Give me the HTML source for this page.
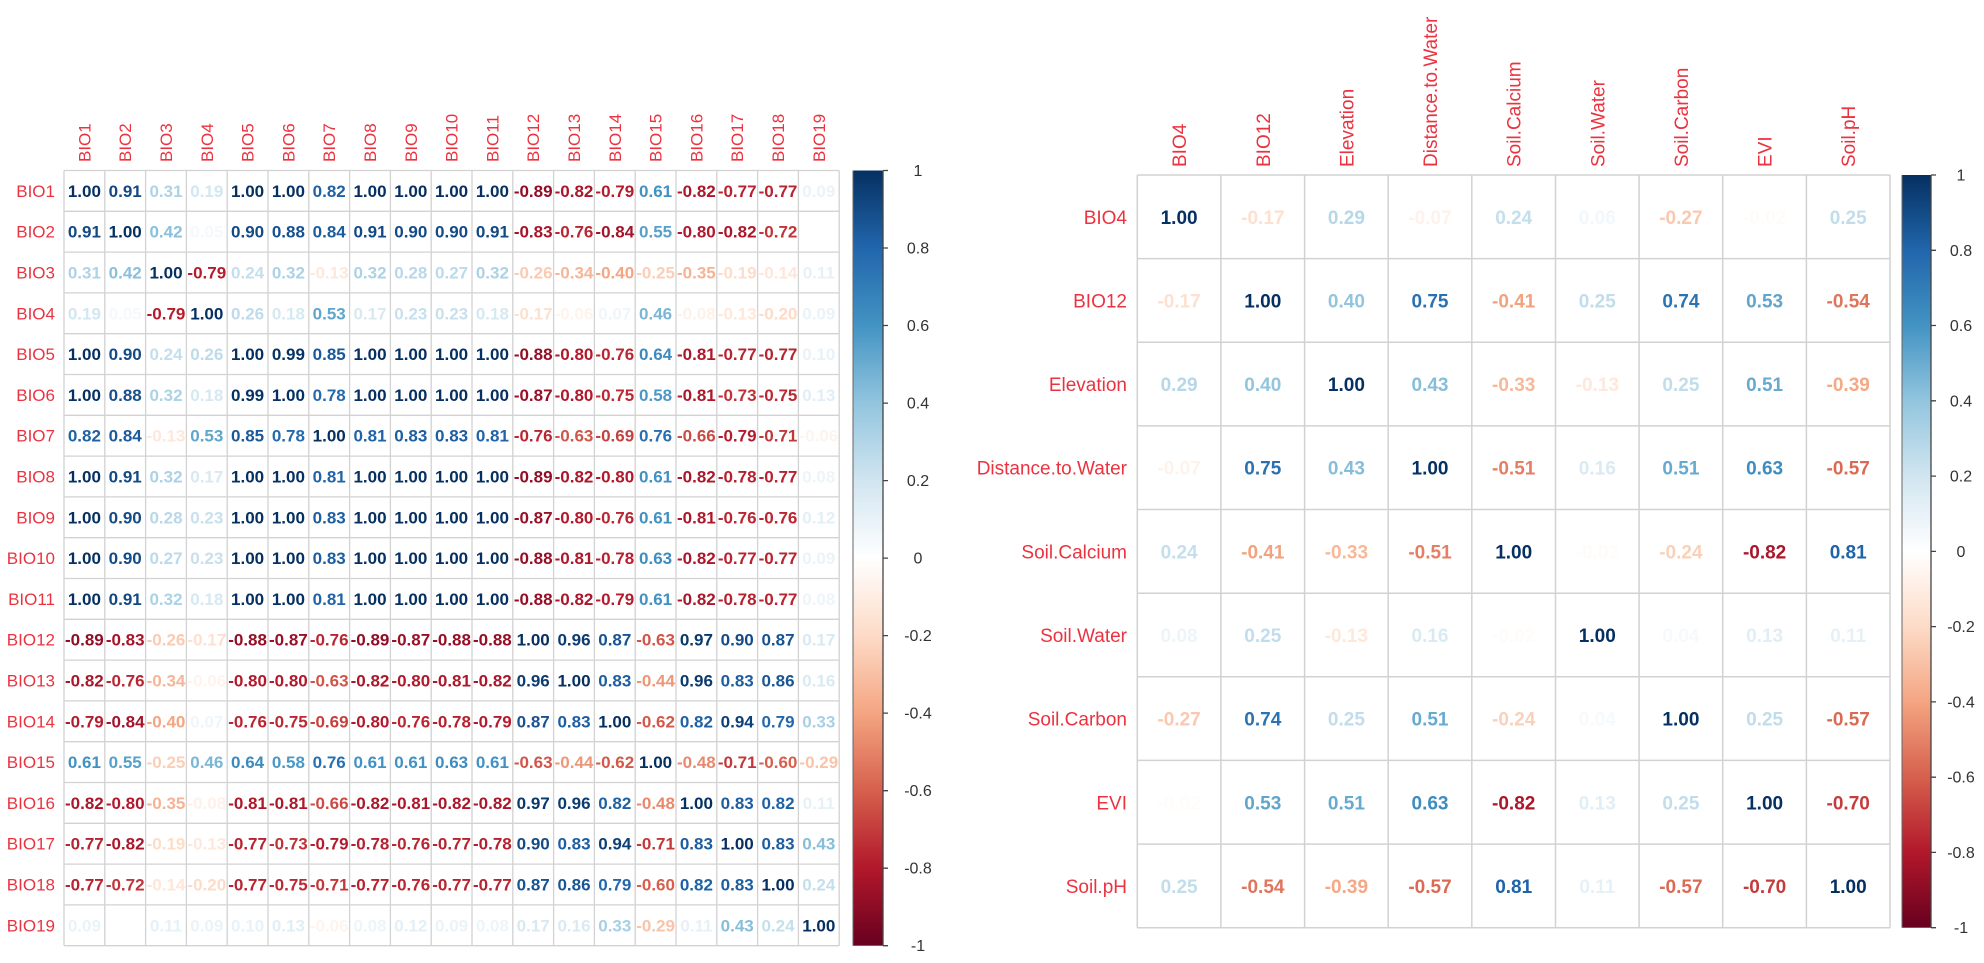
<!DOCTYPE html>
<html><head><meta charset="utf-8"><style>
html,body{margin:0;padding:0;background:#fff;}
svg{display:block;font-family:"Liberation Sans",Arial,sans-serif;}
.lab{fill:#EB3340;}
.nl{font-size:17px;font-weight:bold;text-anchor:middle;}
.nr{font-size:19px;font-weight:bold;text-anchor:middle;}
.tk{font-size:16px;fill:#333;text-anchor:middle;}
</style></head><body>
<svg width="1984" height="963" viewBox="0 0 1984 963" xmlns="http://www.w3.org/2000/svg">
<defs>
<linearGradient id="g" x1="0" y1="0" x2="0" y2="1">
<stop offset="0" stop-color="#053061"/><stop offset="0.1" stop-color="#2166AC"/><stop offset="0.2" stop-color="#4393C3"/><stop offset="0.3" stop-color="#92C5DE"/><stop offset="0.4" stop-color="#D1E5F0"/><stop offset="0.5" stop-color="#FFFFFF"/><stop offset="0.6" stop-color="#FDDBC7"/><stop offset="0.7" stop-color="#F4A582"/><stop offset="0.8" stop-color="#D6604D"/><stop offset="0.9" stop-color="#B2182B"/><stop offset="1" stop-color="#67001F"/>
</linearGradient>
</defs>
<rect width="1984" height="963" fill="#fff"/>

<!-- LEFT GRID -->
<path fill="none" stroke="#d2d2d2" stroke-width="1.3" d="M64 170.5V945.7M104.8 170.5V945.7M145.6 170.5V945.7M186.4 170.5V945.7M227.2 170.5V945.7M268 170.5V945.7M308.8 170.5V945.7M349.6 170.5V945.7M390.4 170.5V945.7M431.2 170.5V945.7M472 170.5V945.7M512.8 170.5V945.7M553.6 170.5V945.7M594.4 170.5V945.7M635.2 170.5V945.7M676 170.5V945.7M716.8 170.5V945.7M757.6 170.5V945.7M798.4 170.5V945.7M839.2 170.5V945.7M64 170.5H839.2M64 211.3H839.2M64 252.1H839.2M64 292.9H839.2M64 333.7H839.2M64 374.5H839.2M64 415.3H839.2M64 456.1H839.2M64 496.9H839.2M64 537.7H839.2M64 578.5H839.2M64 619.3H839.2M64 660.1H839.2M64 700.9H839.2M64 741.7H839.2M64 782.5H839.2M64 823.3H839.2M64 864.1H839.2M64 904.9H839.2M64 945.7H839.2"/>

<!-- LEFT column labels -->
<g class="lab" font-size="17">
<text transform="translate(90.4,162) rotate(-90)">BIO1</text>
<text transform="translate(131.2,162) rotate(-90)">BIO2</text>
<text transform="translate(172,162) rotate(-90)">BIO3</text>
<text transform="translate(212.8,162) rotate(-90)">BIO4</text>
<text transform="translate(253.6,162) rotate(-90)">BIO5</text>
<text transform="translate(294.4,162) rotate(-90)">BIO6</text>
<text transform="translate(335.2,162) rotate(-90)">BIO7</text>
<text transform="translate(376,162) rotate(-90)">BIO8</text>
<text transform="translate(416.8,162) rotate(-90)">BIO9</text>
<text transform="translate(457.6,162) rotate(-90)">BIO10</text>
<text transform="translate(498.4,162) rotate(-90)">BIO11</text>
<text transform="translate(539.2,162) rotate(-90)">BIO12</text>
<text transform="translate(580,162) rotate(-90)">BIO13</text>
<text transform="translate(620.8,162) rotate(-90)">BIO14</text>
<text transform="translate(661.6,162) rotate(-90)">BIO15</text>
<text transform="translate(702.4,162) rotate(-90)">BIO16</text>
<text transform="translate(743.2,162) rotate(-90)">BIO17</text>
<text transform="translate(784,162) rotate(-90)">BIO18</text>
<text transform="translate(824.8,162) rotate(-90)">BIO19</text>
</g>
<!-- LEFT row labels -->
<g class="lab" font-size="17" text-anchor="end">
<text x="55" y="196.9">BIO1</text>
<text x="55" y="237.7">BIO2</text>
<text x="55" y="278.5">BIO3</text>
<text x="55" y="319.3">BIO4</text>
<text x="55" y="360.1">BIO5</text>
<text x="55" y="400.9">BIO6</text>
<text x="55" y="441.7">BIO7</text>
<text x="55" y="482.5">BIO8</text>
<text x="55" y="523.3">BIO9</text>
<text x="55" y="564.1">BIO10</text>
<text x="55" y="604.9">BIO11</text>
<text x="55" y="645.7">BIO12</text>
<text x="55" y="686.5">BIO13</text>
<text x="55" y="727.3">BIO14</text>
<text x="55" y="768.1">BIO15</text>
<text x="55" y="808.9">BIO16</text>
<text x="55" y="849.7">BIO17</text>
<text x="55" y="890.5">BIO18</text>
<text x="55" y="931.3">BIO19</text>
</g>

<!-- LEFT numbers -->
<g class="nl">
<text y="196.9"><tspan x="84.4" fill="#053061">1.00</tspan><tspan x="125.2" fill="#124883">0.91</tspan><tspan x="166" fill="#AED3E6">0.31</tspan><tspan x="206.8" fill="#D3E6F1">0.19</tspan><tspan x="247.6" fill="#053061">1.00</tspan><tspan x="288.4" fill="#053061">1.00</tspan><tspan x="329.2" fill="#1E61A5">0.82</tspan><tspan x="370" fill="#053061">1.00</tspan><tspan x="410.8" fill="#053061">1.00</tspan><tspan x="451.6" fill="#053061">1.00</tspan><tspan x="492.4" fill="#053061">1.00</tspan><tspan x="533.2" fill="#900D26">-0.89</tspan><tspan x="574" fill="#AB162A">-0.82</tspan><tspan x="614.8" fill="#B41C2D">-0.79</tspan><tspan x="655.6" fill="#4191C2">0.61</tspan><tspan x="696.4" fill="#AB162A">-0.82</tspan><tspan x="737.2" fill="#B72330">-0.77</tspan><tspan x="778" fill="#B72330">-0.77</tspan><tspan x="818.8" fill="#EAF3F8">0.09</tspan></text>

<text y="237.7"><tspan x="84.4" fill="#124883">0.91</tspan><tspan x="125.2" fill="#053061">1.00</tspan><tspan x="166" fill="#8AC0DB">0.42</tspan><tspan x="206.8" fill="#F4F9FB">0.05</tspan><tspan x="247.6" fill="#134B87">0.90</tspan><tspan x="288.4" fill="#16508E">0.88</tspan><tspan x="329.2" fill="#1B5B9D">0.84</tspan><tspan x="370" fill="#124883">0.91</tspan><tspan x="410.8" fill="#134B87">0.90</tspan><tspan x="451.6" fill="#134B87">0.90</tspan><tspan x="492.4" fill="#124883">0.91</tspan><tspan x="533.2" fill="#A71429">-0.83</tspan><tspan x="574" fill="#B92632">-0.76</tspan><tspan x="614.8" fill="#A31329">-0.84</tspan><tspan x="655.6" fill="#57A0CA">0.55</tspan><tspan x="696.4" fill="#B2182B">-0.80</tspan><tspan x="737.2" fill="#AB162A">-0.82</tspan><tspan x="778" fill="#C03539">-0.72</tspan><tspan x="818.8" fill="#FFFFFF">0.00</tspan></text>

<text y="278.5"><tspan x="84.4" fill="#AED3E6">0.31</tspan><tspan x="125.2" fill="#8AC0DB">0.42</tspan><tspan x="166" fill="#053061">1.00</tspan><tspan x="206.8" fill="#B41C2D">-0.79</tspan><tspan x="247.6" fill="#C4DFEC">0.24</tspan><tspan x="288.4" fill="#ABD2E5">0.32</tspan><tspan x="329.2" fill="#FEE8DB">-0.13</tspan><tspan x="370" fill="#ABD2E5">0.32</tspan><tspan x="410.8" fill="#B8D8E9">0.28</tspan><tspan x="451.6" fill="#BBDAEA">0.27</tspan><tspan x="492.4" fill="#ABD2E5">0.32</tspan><tspan x="533.2" fill="#FACBB2">-0.26</tspan><tspan x="574" fill="#F7B597">-0.34</tspan><tspan x="614.8" fill="#F4A582">-0.40</tspan><tspan x="655.6" fill="#FBCEB6">-0.25</tspan><tspan x="696.4" fill="#F6B393">-0.35</tspan><tspan x="737.2" fill="#FDDDCA">-0.19</tspan><tspan x="778" fill="#FEE6D8">-0.14</tspan><tspan x="818.8" fill="#E6F1F7">0.11</tspan></text>

<text y="319.3"><tspan x="84.4" fill="#D3E6F1">0.19</tspan><tspan x="125.2" fill="#F4F9FB">0.05</tspan><tspan x="166" fill="#B41C2D">-0.79</tspan><tspan x="206.8" fill="#053061">1.00</tspan><tspan x="247.6" fill="#BEDBEB">0.26</tspan><tspan x="288.4" fill="#D6E8F2">0.18</tspan><tspan x="329.2" fill="#5FA5CC">0.53</tspan><tspan x="370" fill="#D8E9F2">0.17</tspan><tspan x="410.8" fill="#C8E0ED">0.23</tspan><tspan x="451.6" fill="#C8E0ED">0.23</tspan><tspan x="492.4" fill="#D6E8F2">0.18</tspan><tspan x="533.2" fill="#FDE0CF">-0.17</tspan><tspan x="574" fill="#FEF4EE">-0.06</tspan><tspan x="614.8" fill="#EFF6FA">0.07</tspan><tspan x="655.6" fill="#7AB6D6">0.46</tspan><tspan x="696.4" fill="#FEF1E9">-0.08</tspan><tspan x="737.2" fill="#FEE8DB">-0.13</tspan><tspan x="778" fill="#FDDBC7">-0.20</tspan><tspan x="818.8" fill="#EAF3F8">0.09</tspan></text>

<text y="360.1"><tspan x="84.4" fill="#053061">1.00</tspan><tspan x="125.2" fill="#134B87">0.90</tspan><tspan x="166" fill="#C4DFEC">0.24</tspan><tspan x="206.8" fill="#BEDBEB">0.26</tspan><tspan x="247.6" fill="#053061">1.00</tspan><tspan x="288.4" fill="#063365">0.99</tspan><tspan x="329.2" fill="#1A5999">0.85</tspan><tspan x="370" fill="#053061">1.00</tspan><tspan x="410.8" fill="#053061">1.00</tspan><tspan x="451.6" fill="#053061">1.00</tspan><tspan x="492.4" fill="#053061">1.00</tspan><tspan x="533.2" fill="#940E26">-0.88</tspan><tspan x="574" fill="#B2182B">-0.80</tspan><tspan x="614.8" fill="#B92632">-0.76</tspan><tspan x="655.6" fill="#3C8ABE">0.64</tspan><tspan x="696.4" fill="#AE172A">-0.81</tspan><tspan x="737.2" fill="#B72330">-0.77</tspan><tspan x="778" fill="#B72330">-0.77</tspan><tspan x="818.8" fill="#E8F2F8">0.10</tspan></text>

<text y="400.9"><tspan x="84.4" fill="#053061">1.00</tspan><tspan x="125.2" fill="#16508E">0.88</tspan><tspan x="166" fill="#ABD2E5">0.32</tspan><tspan x="206.8" fill="#D6E8F2">0.18</tspan><tspan x="247.6" fill="#063365">0.99</tspan><tspan x="288.4" fill="#053061">1.00</tspan><tspan x="329.2" fill="#246BAE">0.78</tspan><tspan x="370" fill="#053061">1.00</tspan><tspan x="410.8" fill="#053061">1.00</tspan><tspan x="451.6" fill="#053061">1.00</tspan><tspan x="492.4" fill="#053061">1.00</tspan><tspan x="533.2" fill="#981027">-0.87</tspan><tspan x="574" fill="#B2182B">-0.80</tspan><tspan x="614.8" fill="#BB2A34">-0.75</tspan><tspan x="655.6" fill="#4B98C6">0.58</tspan><tspan x="696.4" fill="#AE172A">-0.81</tspan><tspan x="737.2" fill="#BF3137">-0.73</tspan><tspan x="778" fill="#BB2A34">-0.75</tspan><tspan x="818.8" fill="#E1EEF5">0.13</tspan></text>

<text y="441.7"><tspan x="84.4" fill="#1E61A5">0.82</tspan><tspan x="125.2" fill="#1B5B9D">0.84</tspan><tspan x="166" fill="#FEE8DB">-0.13</tspan><tspan x="206.8" fill="#5FA5CC">0.53</tspan><tspan x="247.6" fill="#1A5999">0.85</tspan><tspan x="288.4" fill="#246BAE">0.78</tspan><tspan x="329.2" fill="#053061">1.00</tspan><tspan x="370" fill="#2063A8">0.81</tspan><tspan x="410.8" fill="#1D5EA1">0.83</tspan><tspan x="451.6" fill="#1D5EA1">0.83</tspan><tspan x="492.4" fill="#2063A8">0.81</tspan><tspan x="533.2" fill="#B92632">-0.76</tspan><tspan x="574" fill="#D15548">-0.63</tspan><tspan x="614.8" fill="#C6403E">-0.69</tspan><tspan x="655.6" fill="#286FB1">0.76</tspan><tspan x="696.4" fill="#CB4A43">-0.66</tspan><tspan x="737.2" fill="#B41C2D">-0.79</tspan><tspan x="778" fill="#C2383A">-0.71</tspan><tspan x="818.8" fill="#FEF4EE">-0.06</tspan></text>

<text y="482.5"><tspan x="84.4" fill="#053061">1.00</tspan><tspan x="125.2" fill="#124883">0.91</tspan><tspan x="166" fill="#ABD2E5">0.32</tspan><tspan x="206.8" fill="#D8E9F2">0.17</tspan><tspan x="247.6" fill="#053061">1.00</tspan><tspan x="288.4" fill="#053061">1.00</tspan><tspan x="329.2" fill="#2063A8">0.81</tspan><tspan x="370" fill="#053061">1.00</tspan><tspan x="410.8" fill="#053061">1.00</tspan><tspan x="451.6" fill="#053061">1.00</tspan><tspan x="492.4" fill="#053061">1.00</tspan><tspan x="533.2" fill="#900D26">-0.89</tspan><tspan x="574" fill="#AB162A">-0.82</tspan><tspan x="614.8" fill="#B2182B">-0.80</tspan><tspan x="655.6" fill="#4191C2">0.61</tspan><tspan x="696.4" fill="#AB162A">-0.82</tspan><tspan x="737.2" fill="#B61F2E">-0.78</tspan><tspan x="778" fill="#B72330">-0.77</tspan><tspan x="818.8" fill="#EDF5F9">0.08</tspan></text>

<text y="523.3"><tspan x="84.4" fill="#053061">1.00</tspan><tspan x="125.2" fill="#134B87">0.90</tspan><tspan x="166" fill="#B8D8E9">0.28</tspan><tspan x="206.8" fill="#C8E0ED">0.23</tspan><tspan x="247.6" fill="#053061">1.00</tspan><tspan x="288.4" fill="#053061">1.00</tspan><tspan x="329.2" fill="#1D5EA1">0.83</tspan><tspan x="370" fill="#053061">1.00</tspan><tspan x="410.8" fill="#053061">1.00</tspan><tspan x="451.6" fill="#053061">1.00</tspan><tspan x="492.4" fill="#053061">1.00</tspan><tspan x="533.2" fill="#981027">-0.87</tspan><tspan x="574" fill="#B2182B">-0.80</tspan><tspan x="614.8" fill="#B92632">-0.76</tspan><tspan x="655.6" fill="#4191C2">0.61</tspan><tspan x="696.4" fill="#AE172A">-0.81</tspan><tspan x="737.2" fill="#B92632">-0.76</tspan><tspan x="778" fill="#B92632">-0.76</tspan><tspan x="818.8" fill="#E3EFF6">0.12</tspan></text>

<text y="564.1"><tspan x="84.4" fill="#053061">1.00</tspan><tspan x="125.2" fill="#134B87">0.90</tspan><tspan x="166" fill="#BBDAEA">0.27</tspan><tspan x="206.8" fill="#C8E0ED">0.23</tspan><tspan x="247.6" fill="#053061">1.00</tspan><tspan x="288.4" fill="#053061">1.00</tspan><tspan x="329.2" fill="#1D5EA1">0.83</tspan><tspan x="370" fill="#053061">1.00</tspan><tspan x="410.8" fill="#053061">1.00</tspan><tspan x="451.6" fill="#053061">1.00</tspan><tspan x="492.4" fill="#053061">1.00</tspan><tspan x="533.2" fill="#940E26">-0.88</tspan><tspan x="574" fill="#AE172A">-0.81</tspan><tspan x="614.8" fill="#B61F2E">-0.78</tspan><tspan x="655.6" fill="#3E8CC0">0.63</tspan><tspan x="696.4" fill="#AB162A">-0.82</tspan><tspan x="737.2" fill="#B72330">-0.77</tspan><tspan x="778" fill="#B72330">-0.77</tspan><tspan x="818.8" fill="#EAF3F8">0.09</tspan></text>

<text y="604.9"><tspan x="84.4" fill="#053061">1.00</tspan><tspan x="125.2" fill="#124883">0.91</tspan><tspan x="166" fill="#ABD2E5">0.32</tspan><tspan x="206.8" fill="#D6E8F2">0.18</tspan><tspan x="247.6" fill="#053061">1.00</tspan><tspan x="288.4" fill="#053061">1.00</tspan><tspan x="329.2" fill="#2063A8">0.81</tspan><tspan x="370" fill="#053061">1.00</tspan><tspan x="410.8" fill="#053061">1.00</tspan><tspan x="451.6" fill="#053061">1.00</tspan><tspan x="492.4" fill="#053061">1.00</tspan><tspan x="533.2" fill="#940E26">-0.88</tspan><tspan x="574" fill="#AB162A">-0.82</tspan><tspan x="614.8" fill="#B41C2D">-0.79</tspan><tspan x="655.6" fill="#4191C2">0.61</tspan><tspan x="696.4" fill="#AB162A">-0.82</tspan><tspan x="737.2" fill="#B61F2E">-0.78</tspan><tspan x="778" fill="#B72330">-0.77</tspan><tspan x="818.8" fill="#EDF5F9">0.08</tspan></text>

<text y="645.7"><tspan x="84.4" fill="#900D26">-0.89</tspan><tspan x="125.2" fill="#A71429">-0.83</tspan><tspan x="166" fill="#FACBB2">-0.26</tspan><tspan x="206.8" fill="#FDE0CF">-0.17</tspan><tspan x="247.6" fill="#940E26">-0.88</tspan><tspan x="288.4" fill="#981027">-0.87</tspan><tspan x="329.2" fill="#B92632">-0.76</tspan><tspan x="370" fill="#900D26">-0.89</tspan><tspan x="410.8" fill="#981027">-0.87</tspan><tspan x="451.6" fill="#940E26">-0.88</tspan><tspan x="492.4" fill="#940E26">-0.88</tspan><tspan x="533.2" fill="#053061">1.00</tspan><tspan x="574" fill="#0B3B70">0.96</tspan><tspan x="614.8" fill="#175392">0.87</tspan><tspan x="655.6" fill="#D15548">-0.63</tspan><tspan x="696.4" fill="#09386C">0.97</tspan><tspan x="737.2" fill="#134B87">0.90</tspan><tspan x="778" fill="#175392">0.87</tspan><tspan x="818.8" fill="#D8E9F2">0.17</tspan></text>

<text y="686.5"><tspan x="84.4" fill="#AB162A">-0.82</tspan><tspan x="125.2" fill="#B92632">-0.76</tspan><tspan x="166" fill="#F7B597">-0.34</tspan><tspan x="206.8" fill="#FEF4EE">-0.06</tspan><tspan x="247.6" fill="#B2182B">-0.80</tspan><tspan x="288.4" fill="#B2182B">-0.80</tspan><tspan x="329.2" fill="#D15548">-0.63</tspan><tspan x="370" fill="#AB162A">-0.82</tspan><tspan x="410.8" fill="#B2182B">-0.80</tspan><tspan x="451.6" fill="#AE172A">-0.81</tspan><tspan x="492.4" fill="#AB162A">-0.82</tspan><tspan x="533.2" fill="#0B3B70">0.96</tspan><tspan x="574" fill="#053061">1.00</tspan><tspan x="614.8" fill="#1D5EA1">0.83</tspan><tspan x="655.6" fill="#EE9777">-0.44</tspan><tspan x="696.4" fill="#0B3B70">0.96</tspan><tspan x="737.2" fill="#1D5EA1">0.83</tspan><tspan x="778" fill="#195696">0.86</tspan><tspan x="818.8" fill="#DAEAF3">0.16</tspan></text>

<text y="727.3"><tspan x="84.4" fill="#B41C2D">-0.79</tspan><tspan x="125.2" fill="#A31329">-0.84</tspan><tspan x="166" fill="#F4A582">-0.40</tspan><tspan x="206.8" fill="#EFF6FA">0.07</tspan><tspan x="247.6" fill="#B92632">-0.76</tspan><tspan x="288.4" fill="#BB2A34">-0.75</tspan><tspan x="329.2" fill="#C6403E">-0.69</tspan><tspan x="370" fill="#B2182B">-0.80</tspan><tspan x="410.8" fill="#B92632">-0.76</tspan><tspan x="451.6" fill="#B61F2E">-0.78</tspan><tspan x="492.4" fill="#B41C2D">-0.79</tspan><tspan x="533.2" fill="#175392">0.87</tspan><tspan x="574" fill="#1D5EA1">0.83</tspan><tspan x="614.8" fill="#053061">1.00</tspan><tspan x="655.6" fill="#D2594A">-0.62</tspan><tspan x="696.4" fill="#1E61A5">0.82</tspan><tspan x="737.2" fill="#0D4078">0.94</tspan><tspan x="778" fill="#2368AD">0.79</tspan><tspan x="818.8" fill="#A8D0E4">0.33</tspan></text>

<text y="768.1"><tspan x="84.4" fill="#4191C2">0.61</tspan><tspan x="125.2" fill="#57A0CA">0.55</tspan><tspan x="166" fill="#FBCEB6">-0.25</tspan><tspan x="206.8" fill="#7AB6D6">0.46</tspan><tspan x="247.6" fill="#3C8ABE">0.64</tspan><tspan x="288.4" fill="#4B98C6">0.58</tspan><tspan x="329.2" fill="#286FB1">0.76</tspan><tspan x="370" fill="#4191C2">0.61</tspan><tspan x="410.8" fill="#4191C2">0.61</tspan><tspan x="451.6" fill="#3E8CC0">0.63</tspan><tspan x="492.4" fill="#4191C2">0.61</tspan><tspan x="533.2" fill="#D15548">-0.63</tspan><tspan x="574" fill="#EE9777">-0.44</tspan><tspan x="614.8" fill="#D2594A">-0.62</tspan><tspan x="655.6" fill="#053061">1.00</tspan><tspan x="696.4" fill="#E8896D">-0.48</tspan><tspan x="737.2" fill="#C2383A">-0.71</tspan><tspan x="778" fill="#D6604D">-0.60</tspan><tspan x="818.8" fill="#F9C3A8">-0.29</tspan></text>

<text y="808.9"><tspan x="84.4" fill="#AB162A">-0.82</tspan><tspan x="125.2" fill="#B2182B">-0.80</tspan><tspan x="166" fill="#F6B393">-0.35</tspan><tspan x="206.8" fill="#FEF1E9">-0.08</tspan><tspan x="247.6" fill="#AE172A">-0.81</tspan><tspan x="288.4" fill="#AE172A">-0.81</tspan><tspan x="329.2" fill="#CB4A43">-0.66</tspan><tspan x="370" fill="#AB162A">-0.82</tspan><tspan x="410.8" fill="#AE172A">-0.81</tspan><tspan x="451.6" fill="#AB162A">-0.82</tspan><tspan x="492.4" fill="#AB162A">-0.82</tspan><tspan x="533.2" fill="#09386C">0.97</tspan><tspan x="574" fill="#0B3B70">0.96</tspan><tspan x="614.8" fill="#1E61A5">0.82</tspan><tspan x="655.6" fill="#E8896D">-0.48</tspan><tspan x="696.4" fill="#053061">1.00</tspan><tspan x="737.2" fill="#1D5EA1">0.83</tspan><tspan x="778" fill="#1E61A5">0.82</tspan><tspan x="818.8" fill="#E6F1F7">0.11</tspan></text>

<text y="849.7"><tspan x="84.4" fill="#B72330">-0.77</tspan><tspan x="125.2" fill="#AB162A">-0.82</tspan><tspan x="166" fill="#FDDDCA">-0.19</tspan><tspan x="206.8" fill="#FEE8DB">-0.13</tspan><tspan x="247.6" fill="#B72330">-0.77</tspan><tspan x="288.4" fill="#BF3137">-0.73</tspan><tspan x="329.2" fill="#B41C2D">-0.79</tspan><tspan x="370" fill="#B61F2E">-0.78</tspan><tspan x="410.8" fill="#B92632">-0.76</tspan><tspan x="451.6" fill="#B72330">-0.77</tspan><tspan x="492.4" fill="#B61F2E">-0.78</tspan><tspan x="533.2" fill="#134B87">0.90</tspan><tspan x="574" fill="#1D5EA1">0.83</tspan><tspan x="614.8" fill="#0D4078">0.94</tspan><tspan x="655.6" fill="#C2383A">-0.71</tspan><tspan x="696.4" fill="#1D5EA1">0.83</tspan><tspan x="737.2" fill="#053061">1.00</tspan><tspan x="778" fill="#1D5EA1">0.83</tspan><tspan x="818.8" fill="#86BEDA">0.43</tspan></text>

<text y="890.5"><tspan x="84.4" fill="#B72330">-0.77</tspan><tspan x="125.2" fill="#C03539">-0.72</tspan><tspan x="166" fill="#FEE6D8">-0.14</tspan><tspan x="206.8" fill="#FDDBC7">-0.20</tspan><tspan x="247.6" fill="#B72330">-0.77</tspan><tspan x="288.4" fill="#BB2A34">-0.75</tspan><tspan x="329.2" fill="#C2383A">-0.71</tspan><tspan x="370" fill="#B72330">-0.77</tspan><tspan x="410.8" fill="#B92632">-0.76</tspan><tspan x="451.6" fill="#B72330">-0.77</tspan><tspan x="492.4" fill="#B72330">-0.77</tspan><tspan x="533.2" fill="#175392">0.87</tspan><tspan x="574" fill="#195696">0.86</tspan><tspan x="614.8" fill="#2368AD">0.79</tspan><tspan x="655.6" fill="#D6604D">-0.60</tspan><tspan x="696.4" fill="#1E61A5">0.82</tspan><tspan x="737.2" fill="#1D5EA1">0.83</tspan><tspan x="778" fill="#053061">1.00</tspan><tspan x="818.8" fill="#C4DFEC">0.24</tspan></text>

<text y="931.3"><tspan x="84.4" fill="#EAF3F8">0.09</tspan><tspan x="125.2" fill="#FFFFFF">0.00</tspan><tspan x="166" fill="#E6F1F7">0.11</tspan><tspan x="206.8" fill="#EAF3F8">0.09</tspan><tspan x="247.6" fill="#E8F2F8">0.10</tspan><tspan x="288.4" fill="#E1EEF5">0.13</tspan><tspan x="329.2" fill="#FEF4EE">-0.06</tspan><tspan x="370" fill="#EDF5F9">0.08</tspan><tspan x="410.8" fill="#E3EFF6">0.12</tspan><tspan x="451.6" fill="#EAF3F8">0.09</tspan><tspan x="492.4" fill="#EDF5F9">0.08</tspan><tspan x="533.2" fill="#D8E9F2">0.17</tspan><tspan x="574" fill="#DAEAF3">0.16</tspan><tspan x="614.8" fill="#A8D0E4">0.33</tspan><tspan x="655.6" fill="#F9C3A8">-0.29</tspan><tspan x="696.4" fill="#E6F1F7">0.11</tspan><tspan x="737.2" fill="#86BEDA">0.43</tspan><tspan x="778" fill="#C4DFEC">0.24</tspan><tspan x="818.8" fill="#053061">1.00</tspan></text>
</g>

<!-- LEFT colorbar -->
<rect x="853" y="170.5" width="30" height="775.2" fill="url(#g)"/>
<line x1="853" y1="170.5" x2="853" y2="945.7" stroke="#666" stroke-width="1"/>
<path stroke="#444" stroke-width="1.3" fill="none" d="M883 170.5V945.7M883 170.5h5M883 248h5M883 325.5h5M883 403.1h5M883 480.6h5M883 558.1h5M883 635.6h5M883 713.1h5M883 790.7h5M883 868.2h5M883 945.7h5"/>
<g class="tk">
<text x="918" y="176">1</text>
<text x="918" y="253.5">0.8</text>
<text x="918" y="331">0.6</text>
<text x="918" y="408.6">0.4</text>
<text x="918" y="486.1">0.2</text>
<text x="918" y="563.6">0</text>
<text x="918" y="641.1">-0.2</text>
<text x="918" y="718.6">-0.4</text>
<text x="918" y="796.2">-0.6</text>
<text x="918" y="873.7">-0.8</text>
<text x="918" y="951.2">-1</text>
</g>

<!-- RIGHT GRID -->
<path fill="none" stroke="#d2d2d2" stroke-width="1.5" d="M1137.3 175V927.7M1220.9 175V927.7M1304.6 175V927.7M1388.2 175V927.7M1471.8 175V927.7M1555.5 175V927.7M1639.1 175V927.7M1722.7 175V927.7M1806.4 175V927.7M1890 175V927.7M1137.3 175H1890M1137.3 258.6H1890M1137.3 342.3H1890M1137.3 425.9H1890M1137.3 509.5H1890M1137.3 593.2H1890M1137.3 676.8H1890M1137.3 760.4H1890M1137.3 844.1H1890M1137.3 927.7H1890"/>

<!-- RIGHT column labels -->
<g class="lab" font-size="19">
<text transform="translate(1186.1,167) rotate(-90)">BIO4</text>
<text transform="translate(1269.8,167) rotate(-90)">BIO12</text>
<text transform="translate(1353.4,167) rotate(-90)">Elevation</text>
<text transform="translate(1437,167) rotate(-90)">Distance.to.Water</text>
<text transform="translate(1520.7,167) rotate(-90)">Soil.Calcium</text>
<text transform="translate(1604.3,167) rotate(-90)">Soil.Water</text>
<text transform="translate(1687.9,167) rotate(-90)">Soil.Carbon</text>
<text transform="translate(1771.6,167) rotate(-90)">EVI</text>
<text transform="translate(1855.2,167) rotate(-90)">Soil.pH</text>
</g>
<!-- RIGHT row labels -->
<g class="lab" font-size="19" text-anchor="end">
<text x="1127" y="223.8">BIO4</text>
<text x="1127" y="307.5">BIO12</text>
<text x="1127" y="391.1">Elevation</text>
<text x="1127" y="474.7">Distance.to.Water</text>
<text x="1127" y="558.4">Soil.Calcium</text>
<text x="1127" y="642">Soil.Water</text>
<text x="1127" y="725.6">Soil.Carbon</text>
<text x="1127" y="809.3">EVI</text>
<text x="1127" y="892.9">Soil.pH</text>
</g>

<!-- RIGHT numbers -->
<g class="nr">
<text y="223.8"><tspan x="1179.1" fill="#053061">1.00</tspan><tspan x="1262.8" fill="#FDE0CF">-0.17</tspan><tspan x="1346.4" fill="#B5D7E8">0.29</tspan><tspan x="1430" fill="#FEF2EB">-0.07</tspan><tspan x="1513.7" fill="#C4DFEC">0.24</tspan><tspan x="1597.3" fill="#F1F7FB">0.06</tspan><tspan x="1680.9" fill="#FAC8AF">-0.27</tspan><tspan x="1764.6" fill="#FFFBF9">-0.02</tspan><tspan x="1848.2" fill="#C1DDEC">0.25</tspan></text>
<text y="307.5"><tspan x="1179.1" fill="#FDE0CF">-0.17</tspan><tspan x="1262.8" fill="#053061">1.00</tspan><tspan x="1346.4" fill="#92C5DE">0.40</tspan><tspan x="1430" fill="#2A71B2">0.75</tspan><tspan x="1513.7" fill="#F3A27F">-0.41</tspan><tspan x="1597.3" fill="#C1DDEC">0.25</tspan><tspan x="1680.9" fill="#2B74B3">0.74</tspan><tspan x="1764.6" fill="#5FA5CC">0.53</tspan><tspan x="1848.2" fill="#DF755D">-0.54</tspan></text>
<text y="391.1"><tspan x="1179.1" fill="#B5D7E8">0.29</tspan><tspan x="1262.8" fill="#92C5DE">0.40</tspan><tspan x="1346.4" fill="#053061">1.00</tspan><tspan x="1430" fill="#86BEDA">0.43</tspan><tspan x="1513.7" fill="#F7B89A">-0.33</tspan><tspan x="1597.3" fill="#FEE8DB">-0.13</tspan><tspan x="1680.9" fill="#C1DDEC">0.25</tspan><tspan x="1764.6" fill="#67AACF">0.51</tspan><tspan x="1848.2" fill="#F4A885">-0.39</tspan></text>
<text y="474.7"><tspan x="1179.1" fill="#FEF2EB">-0.07</tspan><tspan x="1262.8" fill="#2A71B2">0.75</tspan><tspan x="1346.4" fill="#86BEDA">0.43</tspan><tspan x="1430" fill="#053061">1.00</tspan><tspan x="1513.7" fill="#E47F65">-0.51</tspan><tspan x="1597.3" fill="#DAEAF3">0.16</tspan><tspan x="1680.9" fill="#67AACF">0.51</tspan><tspan x="1764.6" fill="#3E8CC0">0.63</tspan><tspan x="1848.2" fill="#DB6A55">-0.57</tspan></text>
<text y="558.4"><tspan x="1179.1" fill="#C4DFEC">0.24</tspan><tspan x="1262.8" fill="#F3A27F">-0.41</tspan><tspan x="1346.4" fill="#F7B89A">-0.33</tspan><tspan x="1430" fill="#E47F65">-0.51</tspan><tspan x="1513.7" fill="#053061">1.00</tspan><tspan x="1597.3" fill="#FFFBF9">-0.02</tspan><tspan x="1680.9" fill="#FBD0B9">-0.24</tspan><tspan x="1764.6" fill="#AB162A">-0.82</tspan><tspan x="1848.2" fill="#2063A8">0.81</tspan></text>
<text y="642"><tspan x="1179.1" fill="#EDF5F9">0.08</tspan><tspan x="1262.8" fill="#C1DDEC">0.25</tspan><tspan x="1346.4" fill="#FEE8DB">-0.13</tspan><tspan x="1430" fill="#DAEAF3">0.16</tspan><tspan x="1513.7" fill="#FFFBF9">-0.02</tspan><tspan x="1597.3" fill="#053061">1.00</tspan><tspan x="1680.9" fill="#F6FAFC">0.04</tspan><tspan x="1764.6" fill="#E1EEF5">0.13</tspan><tspan x="1848.2" fill="#E6F1F7">0.11</tspan></text>
<text y="725.6"><tspan x="1179.1" fill="#FAC8AF">-0.27</tspan><tspan x="1262.8" fill="#2B74B3">0.74</tspan><tspan x="1346.4" fill="#C1DDEC">0.25</tspan><tspan x="1430" fill="#67AACF">0.51</tspan><tspan x="1513.7" fill="#FBD0B9">-0.24</tspan><tspan x="1597.3" fill="#F6FAFC">0.04</tspan><tspan x="1680.9" fill="#053061">1.00</tspan><tspan x="1764.6" fill="#C1DDEC">0.25</tspan><tspan x="1848.2" fill="#DB6A55">-0.57</tspan></text>
<text y="809.3"><tspan x="1179.1" fill="#FFFBF9">-0.02</tspan><tspan x="1262.8" fill="#5FA5CC">0.53</tspan><tspan x="1346.4" fill="#67AACF">0.51</tspan><tspan x="1430" fill="#3E8CC0">0.63</tspan><tspan x="1513.7" fill="#AB162A">-0.82</tspan><tspan x="1597.3" fill="#E1EEF5">0.13</tspan><tspan x="1680.9" fill="#C1DDEC">0.25</tspan><tspan x="1764.6" fill="#053061">1.00</tspan><tspan x="1848.2" fill="#C43C3C">-0.70</tspan></text>
<text y="892.9"><tspan x="1179.1" fill="#C1DDEC">0.25</tspan><tspan x="1262.8" fill="#DF755D">-0.54</tspan><tspan x="1346.4" fill="#F4A885">-0.39</tspan><tspan x="1430" fill="#DB6A55">-0.57</tspan><tspan x="1513.7" fill="#2063A8">0.81</tspan><tspan x="1597.3" fill="#E6F1F7">0.11</tspan><tspan x="1680.9" fill="#DB6A55">-0.57</tspan><tspan x="1764.6" fill="#C43C3C">-0.70</tspan><tspan x="1848.2" fill="#053061">1.00</tspan></text>
</g>

<!-- RIGHT colorbar -->
<rect x="1902" y="175" width="29" height="752.7" fill="url(#g)"/>
<line x1="1902" y1="175" x2="1902" y2="927.7" stroke="#666" stroke-width="1"/>
<path stroke="#444" stroke-width="1.3" fill="none" d="M1931 175V927.7M1931 175h5M1931 250.3h5M1931 325.5h5M1931 400.8h5M1931 476.1h5M1931 551.4h5M1931 626.6h5M1931 701.9h5M1931 777.2h5M1931 852.4h5M1931 927.7h5"/>
<g class="tk">
<text x="1961" y="180.5">1</text>
<text x="1961" y="255.8">0.8</text>
<text x="1961" y="331">0.6</text>
<text x="1961" y="406.3">0.4</text>
<text x="1961" y="481.6">0.2</text>
<text x="1961" y="556.9">0</text>
<text x="1961" y="632.1">-0.2</text>
<text x="1961" y="707.4">-0.4</text>
<text x="1961" y="782.7">-0.6</text>
<text x="1961" y="857.9">-0.8</text>
<text x="1961" y="933.2">-1</text>
</g>
</svg>
</body></html>
